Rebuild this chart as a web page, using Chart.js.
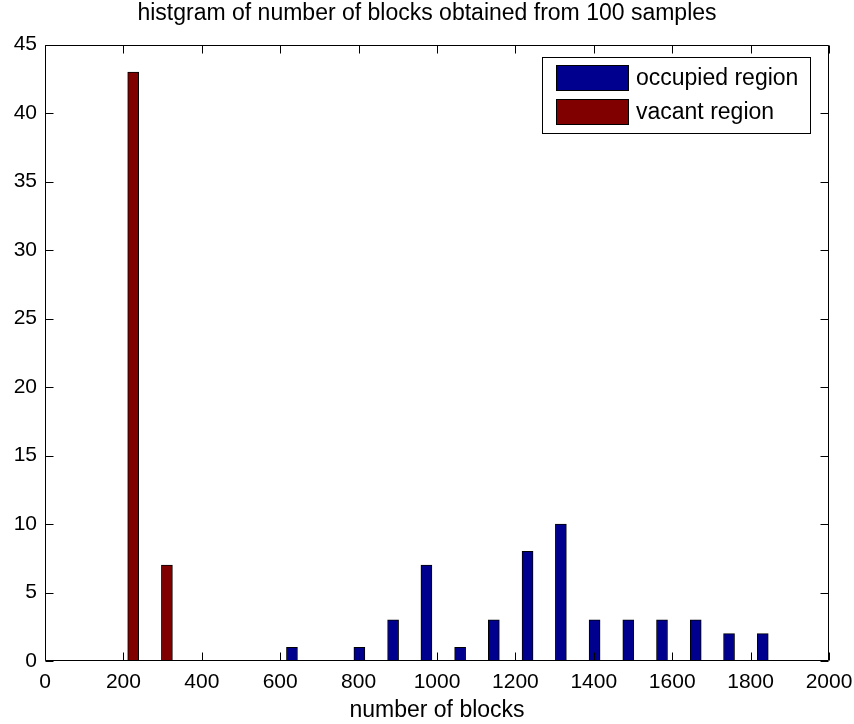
<!DOCTYPE html>
<html>
<head>
<meta charset="utf-8">
<script src="https://cdn.jsdelivr.net/npm/chart.js@4"></script>
<style>
  html, body { margin: 0; padding: 0; background: #ffffff; }
  #wrap { width: 854px; height: 724px; }
</style>
</head>
<body>
<div id="wrap"><canvas id="c" width="854" height="724"></canvas></div>
<script>
// ---- data ----
const chartTitle = 'histgram of number of blocks obtained from 100 samples';
const xAxisTitle = 'number of blocks';
const seriesNames = ['occupied region', 'vacant region'];
const occupiedCenters = [630, 716, 802, 888, 973, 1059, 1145, 1231, 1316, 1402, 1488, 1574, 1660, 1745, 1831];
const occupiedCounts  = [1, 0, 1, 3, 7, 1, 3, 8, 10, 3, 3, 3, 3, 2, 2];
const vacantCenters = [225, 311];
const vacantCounts  = [43, 7];
const xTickValues = [0, 200, 400, 600, 800, 1000, 1200, 1400, 1600, 1800, 2000];
const yTickValues = [0, 5, 10, 15, 20, 25, 30, 35, 40, 45];

const FONT = '"Liberation Sans", Arial, Helvetica, sans-serif';

function toPoints(xs, ys) { return xs.map((x, i) => ({ x: x, y: ys[i] })); }

// MATLAB-like axes box with inward ticks on all four sides
const axesBox = {
  id: 'axesBox',
  afterDatasetsDraw(chart) {
    const ctx = chart.ctx, a = chart.chartArea;
    const xs = chart.scales.x, ys = chart.scales.y;
    const L = Math.round(a.left) + 0.5, R = Math.round(a.right) - 0.5;
    const T = Math.round(a.top) + 0.5, B = Math.round(a.bottom) - 0.5;
    const tl = 8;
    ctx.save();
    ctx.strokeStyle = '#000';
    ctx.lineWidth = 1;
    ctx.beginPath();
    ctx.rect(L, T, R - L, B - T);
    xTickValues.forEach(v => {
      const px = Math.round(xs.getPixelForValue(v)) + 0.5;
      ctx.moveTo(px, B); ctx.lineTo(px, B - tl);
      ctx.moveTo(px, T); ctx.lineTo(px, T + tl);
    });
    yTickValues.forEach(v => {
      const py = Math.round(ys.getPixelForValue(v)) + 0.5;
      ctx.moveTo(L, py); ctx.lineTo(L + tl, py);
      ctx.moveTo(R, py); ctx.lineTo(R - tl, py);
    });
    ctx.stroke();
    ctx.restore();
  }
};

// MATLAB-like boxed legend in the upper right of the axes
const boxLegend = {
  id: 'boxLegend',
  afterDraw(chart) {
    const ctx = chart.ctx, a = chart.chartArea;
    const ds = chart.data.datasets;
    ctx.save();
    ctx.font = '23px ' + FONT;
    const textW = Math.max(...ds.map(d => ctx.measureText(d.label).width));
    const swW = 73, swH = 26, padL = 14, gap = 7, padR = 13, rowH = 34, padT = 8, padB = 9;
    const w = padL + swW + gap + textW + padR;
    const h = padT + rowH * ds.length - (rowH - swH) + padB;
    const right = Math.round(a.right) - 18;
    const left = right - Math.round(w);
    const top = Math.round(a.top) + 12;
    ctx.fillStyle = '#fff';
    ctx.fillRect(left, top, right - left, h);
    ctx.strokeStyle = '#000';
    ctx.lineWidth = 1;
    ctx.strokeRect(left + 0.5, top + 0.5, right - left - 1, h - 1);
    ds.forEach((d, i) => {
      const y = top + padT + i * rowH;
      ctx.fillStyle = d.backgroundColor;
      ctx.fillRect(left + padL, y, swW, swH);
      ctx.strokeStyle = '#000';
      ctx.strokeRect(left + padL + 0.5, y + 0.5, swW - 1, swH - 1);
      ctx.fillStyle = '#000';
      ctx.textBaseline = 'middle';
      ctx.textAlign = 'left';
      ctx.fillText(d.label, left + padL + swW + gap, y + swH / 2 + 1);
    });
    ctx.restore();
  }
};

new Chart(document.getElementById('c'), {
  type: 'bar',
  data: {
    datasets: [
      {
        label: seriesNames[0],
        data: toPoints(occupiedCenters, occupiedCounts),
        backgroundColor: '#00008f',
        borderColor: '#000',
        borderWidth: 1,
        borderSkipped: false,
        barThickness: 11,
        grouped: false
      },
      {
        label: seriesNames[1],
        data: toPoints(vacantCenters, vacantCounts),
        backgroundColor: '#800000',
        borderColor: '#000',
        borderWidth: 1,
        borderSkipped: false,
        barThickness: 11,
        grouped: false
      }
    ]
  },
  options: {
    responsive: false,
    animation: false,
    events: [],
    layout: { padding: { left: 0, right: 0, top: 0, bottom: 0 } },
    plugins: {
      legend: { display: false },
      tooltip: { enabled: false },
      title: {
        display: true,
        text: chartTitle,
        color: '#000',
        font: { family: FONT, size: 23, weight: 'normal', lineHeight: 1.2 },
        padding: { top: 0, bottom: 17 }
      }
    },
    scales: {
      x: {
        type: 'linear',
        min: 0, max: 2000,
        offset: false,
        afterBuildTicks: s => { s.ticks = xTickValues.map(v => ({ value: v })); },
        afterFit: s => { s.height = 63; s.paddingRight = 25; s.paddingLeft = 0; },
        grid: { display: false, drawTicks: false, offset: false },
        border: { display: false },
        ticks: {
          color: '#000',
          font: { family: FONT, size: 21 },
          padding: 9,
          maxRotation: 0,
          autoSkip: false,
          callback: v => String(v)
        },
        title: {
          display: true,
          text: xAxisTitle,
          color: '#000',
          font: { family: FONT, size: 23, lineHeight: 1.2 },
          padding: { top: 0, bottom: 0 }
        }
      },
      y: {
        type: 'linear',
        min: 0, max: 45,
        afterBuildTicks: s => { s.ticks = yTickValues.map(v => ({ value: v })); },
        afterFit: s => { s.width = 45; },
        grid: { display: false, drawTicks: false },
        border: { display: false },
        ticks: {
          color: '#000',
          font: { family: FONT, size: 21 },
          padding: 8,
          callback: v => String(v)
        }
      }
    }
  },
  plugins: [axesBox, boxLegend]
});
</script>
</body>
</html>
